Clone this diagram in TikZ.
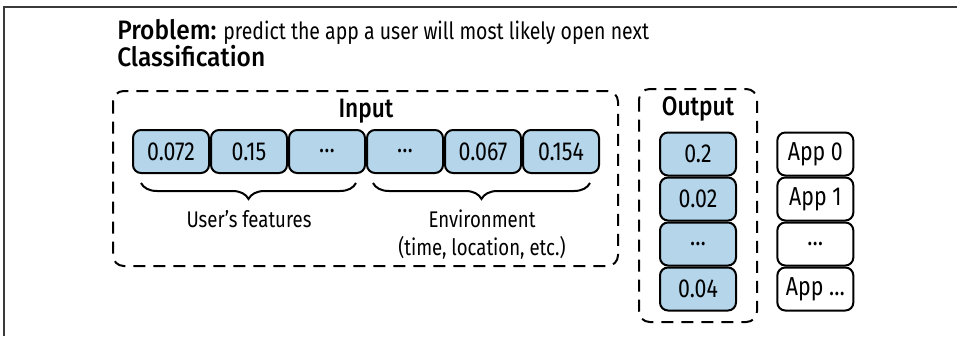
\documentclass[tikz,border=0pt]{standalone}
\usepackage{fontspec}
\setmainfont{Fira Sans}[FakeStretch=0.82]
\newfontfamily\headfont{Fira Sans Medium}[FakeStretch=0.85]
\newfontfamily\titlefont{Fira Sans Medium}[FakeStretch=0.92]
\usepackage{xcolor}
\usetikzlibrary{positioning,calc,decorations.pathreplacing}
\definecolor{cellblue}{HTML}{B4D5EA}
\definecolor{framegray}{HTML}{3A3A3A}

\begin{document}
\begin{tikzpicture}[x = 0.75pt, y = -0.75pt, font = \fontsize{17pt}{20pt}\selectfont,
        cell/.style = {draw = black, line width = 1.5pt, rounded corners = 6pt, rectangle, minimum width = 57pt, minimum height = 32.25pt, inner sep = 0pt, font = \fontsize{19.5pt}{20pt}\selectfont},
        valcell/.style = {cell, fill = cellblue},
        appcell/.style = {cell, fill = white},
        dashbox/.style = {dash pattern = on 9pt off 6pt, line width = 1.5pt, rounded corners = 8pt},
        featbrace/.style = {decorate, decoration = {brace, mirror, amplitude = 12pt}, line width = 1.5pt},
        head/.style = {font = \fontsize{20pt}{20pt}\headfont}]
        \useasboundingbox (0, 0) rectangle (957, 336);
        \draw [framegray, line width = 1.2pt] (4, 336) -- (4, 7) -- (957, 7);

        % Titles
        \node [anchor = base west, inner sep = 0pt, font = \fontsize{17.8pt}{20pt}\selectfont] (prob) at (117, 39) {{\fontsize{20pt}{20pt}\titlefont Problem:} predict the app a user will most likely open next};
        \node [anchor = base west, inner sep = 0pt, font = \fontsize{20pt}{20pt}\titlefont] (cls) at (117, 66) {Classification};

        % Input
        \draw [dashbox] (113, 91) rectangle (618, 266);
        \node [head, anchor = base] (inlbl) at (366, 117) {Input};
        \node [valcell] (u1) at (171, 151.5) {0.072};
        \node [valcell, right = 0pt of u1] (u2) {0.15};
        \node [valcell, right = 0pt of u2] (u3) {…};
        \node [valcell, right = 0pt of u3] (u4) {…};
        \node [valcell, right = 0pt of u4] (u5) {0.067};
        \node [valcell, right = 0pt of u5] (u6) {0.154};

        % Braces
        \draw [featbrace] ($(u1.south west) + (9, 9)$) -- ($(u3.south east) + (-10, 9)$);
        \draw [featbrace] ($(u4.south west) + (7, 9)$) -- ($(u6.south east) + (-10, 9)$);
        \node [anchor = base] (userlbl) at (249, 227) {User’s features};
        \node [anchor = base] (envlbl) at (482, 227) {Environment};
        \node [anchor = base] (envsub) at (482, 255) {(time, location, etc.)};

        % Output
        \draw [dashbox] (639, 89) rectangle (757, 322);
        \node [head, anchor = base] (outlbl) at (698, 115) {Output};
        \node [valcell] (o1) at (698, 154) {0.2};
        \node [valcell, below = 0pt of o1] (o2) {0.02};
        \node [valcell, below = 0pt of o2] (o3) {…};
        \node [valcell, below = 0pt of o3] (o4) {0.04};

        % Apps
        \node [appcell, right = 29.5pt of o1] (a0) {App 0};
        \node [appcell, below = 0pt of a0] (a1) {App 1};
        \node [appcell, below = 0pt of a1] (a2) {…};
        \node [appcell, below = 0pt of a2] (a3) {App …};
\end{tikzpicture}
\end{document}
